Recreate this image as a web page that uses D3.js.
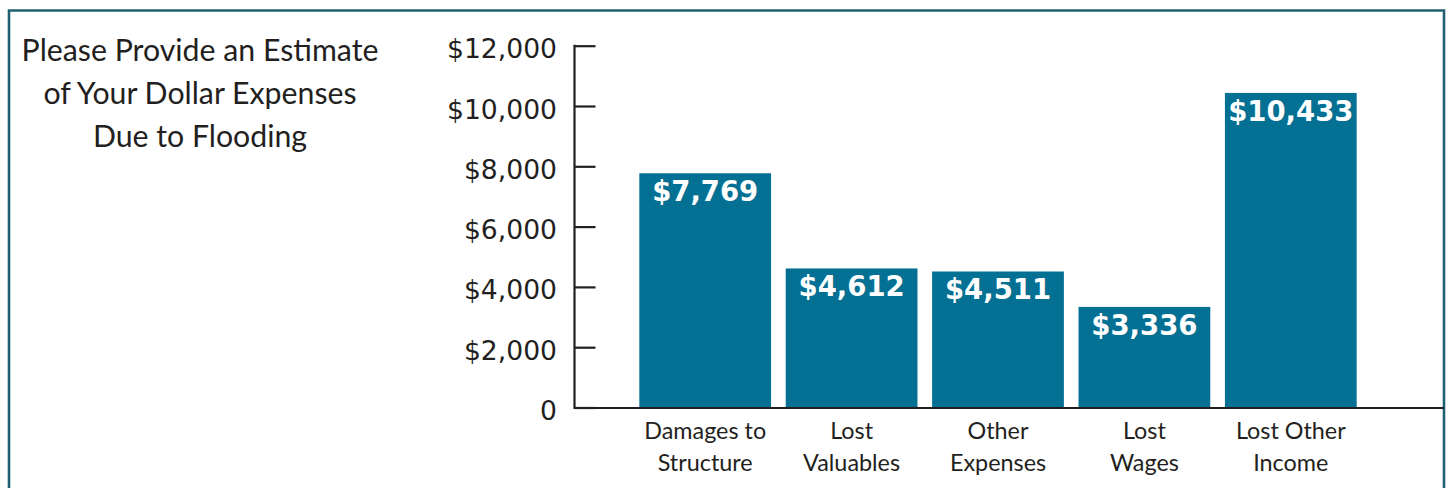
<!DOCTYPE html>
<html><head><meta charset="utf-8">
<script src="https://cdn.jsdelivr.net/npm/d3@7"></script>
<style>
html,body{margin:0;padding:0;background:#fff;}
svg{display:block;}
</style></head>
<body>
<script>
const categories = [["Damages to","Structure"],["Lost","Valuables"],["Other","Expenses"],["Lost","Wages"],["Lost Other","Income"]];
const values = [7769, 4612, 4511, 3336, 10433];
const valueLabels = ["$7,769","$4,612","$4,511","$3,336","$10,433"];
const tickValues = [0, 2000, 4000, 6000, 8000, 10000, 12000];
const tickLabels = ["0","$2,000","$4,000","$6,000","$8,000","$10,000","$12,000"];
const titleLines = ["Please Provide an Estimate","of Your Dollar Expenses","Due to Flooding"];

const W = 1450, H = 488;
const svg = d3.select("body").append("svg").attr("width", W).attr("height", H);

// frame
svg.append("path").attr("d", "M9,492 L9,10.5 L1444,10.5 L1444,492")
  .attr("fill","none").attr("stroke","#1f6172").attr("stroke-width",2.6);

const titleFont = "Lato, 'Noto Sans', sans-serif";
const numFont = "'DejaVu Sans', sans-serif";
const ink = "#231f20";

// title
const tg = svg.append("g");
const titleY = [61, 104, 147];
const tt = tg.selectAll("text").data(titleLines).join("text")
  .attr("x", 200).attr("y", (d,i)=>titleY[i])
  .attr("text-anchor","middle").attr("font-family", titleFont)
  .attr("font-size", 30).attr("fill", ink).text(d=>d);
// fit width of first line to ~357px
const w0 = tt.nodes()[0].getComputedTextLength();
tt.attr("font-size", 30*357/w0);

const y = d3.scaleLinear().domain([0, 12000]).range([407.5, 45.7]);
const x = d3.scaleBand().domain(d3.range(categories.length)).range([632, 1364]).paddingInner(0.1).paddingOuter(0.05);

const axisX = 574.5;
// y axis
const yAxis = d3.axisRight(y).tickValues(tickValues).tickSize(21).tickFormat("");
const ga = svg.append("g").attr("transform", `translate(${axisX},0)`).call(yAxis);
ga.select(".domain").remove();
ga.selectAll(".tick line").attr("stroke", ink).attr("stroke-width", 2.2);
svg.append("line").attr("x1", axisX).attr("x2", axisX).attr("y1", y(12000)-1).attr("y2", y(0))
  .attr("stroke", ink).attr("stroke-width", 2.2);

svg.append("g").selectAll("text").data(tickValues).join("text")
  .attr("x", 557).attr("y", d=>y(d)+12.5)
  .attr("text-anchor","end").attr("font-family", numFont).attr("font-size", 26.6)
  .attr("fill", ink).text((d,i)=>tickLabels[i]);

// bars
svg.append("g").selectAll("rect").data(values).join("rect")
  .attr("x", (d,i)=>x(i)).attr("width", x.bandwidth())
  .attr("y", d=>y(d)).attr("height", d=>y(0)-y(d))
  .attr("fill", "#047093");

// x axis baseline
svg.append("line").attr("x1", axisX-1).attr("x2", 1444).attr("y1", y(0)+0.5).attr("y2", y(0)+0.5)
  .attr("stroke", ink).attr("stroke-width", 2.2);

// value labels
svg.append("g").selectAll("text").data(values).join("text")
  .attr("x", (d,i)=>x(i)+x.bandwidth()/2).attr("y", d=>y(d)+28)
  .attr("text-anchor","middle").attr("font-family", numFont).attr("font-weight","bold")
  .attr("font-size", 27.5).attr("fill","#fff").text((d,i)=>valueLabels[i]);

// category labels
const cg = svg.append("g").selectAll("text").data(categories).join("text")
  .attr("x", (d,i)=>x(i)+x.bandwidth()/2).attr("y", 439)
  .attr("text-anchor","middle").attr("font-family", titleFont)
  .attr("font-size", 22).attr("fill", ink);
cg.selectAll("tspan").data(d=>d).join("tspan")
  .attr("x", function(){return this.parentNode.getAttribute("x");})
  .attr("dy", (d,i)=> i===0 ? 0 : 32).text(d=>d);
const wc = cg.nodes()[0].querySelector("tspan").getComputedTextLength();
cg.attr("font-size", 22*122/wc);
</script>
</body></html>
